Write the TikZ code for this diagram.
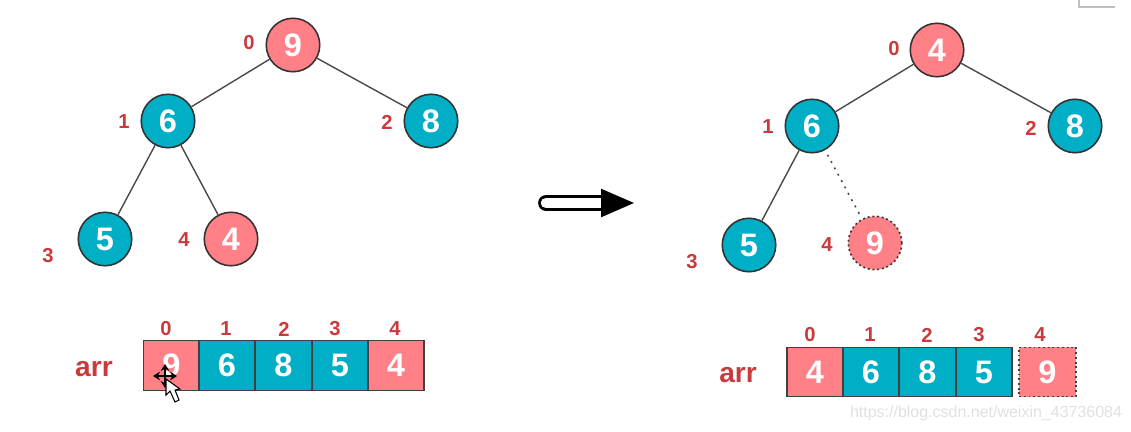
\documentclass[tikz,border=0pt]{standalone}
\usepackage{fontspec}
\setmainfont{Liberation Sans}
\usetikzlibrary{arrows.meta}
\definecolor{tealfill}{HTML}{00AEC5}
\definecolor{pinkfill}{HTML}{FF8087}
\definecolor{indexred}{HTML}{C93A3C}
\definecolor{edgegray}{HTML}{4A4A4A}
\tikzset{
  heap node/.style={circle,draw=black!80,line width=0.9pt,minimum size=1.07cm,inner sep=0pt,text=white,font=\fontsize{18.5}{18.5}\selectfont\bfseries},
  teal node/.style={heap node,fill=tealfill},
  pink node/.style={heap node,fill=pinkfill},
  loose node/.style={pink node,dash pattern=on 1.1pt off 1.6pt},
  index label/.style={text=indexred,inner sep=0pt,font=\fontsize{11.5}{11.5}\selectfont\bfseries},
  arr label/.style={text=indexred,inner sep=0pt,font=\fontsize{16}{16}\selectfont\bfseries},
  arr cell/.style={draw=black!75,line width=0.8pt,minimum height=0.99cm,inner sep=0pt,text=white,font=\fontsize{18.5}{18.5}\selectfont\bfseries},
  tree edge/.style={edgegray,line width=0.8pt},
  loose edge/.style={edgegray,line width=0.9pt,dash pattern=on 1.1pt off 3pt},
  swap arrow/.style={line width=1.5pt,double=white,double distance=6pt,line cap=round,-{Triangle[length=0.66cm,width=0.56cm]}},
}
\begin{document}
\begin{tikzpicture}[x=0.02cm,y=-0.02cm]
  \useasboundingbox (0,0) rectangle (1131,432);
  % left heap
  \foreach \n/\v/\x/\y/\s in {a0/9/293/45/pink,a1/6/168/121/teal,a2/8/431/121/teal,a3/5/105/239/teal,a4/4/231/239/pink}{
    \node[\s\space node] (\n) at (\x,\y) {\v};
  }
  \foreach \i/\x/\y in {0/249/43,1/124/122,2/387/122,3/48/256,4/184/240}{
    \node[index label] (al\i) at (\x,\y) {\i};
  }
  \draw[tree edge] (a0)--(a1);
  \draw[tree edge] (a0)--(a2);
  \draw[tree edge] (a1)--(a3);
  \draw[tree edge] (a1)--(a4);
  % left array
  \node[arr label] (aarr) at (94,369) {arr};
  \foreach \i/\v/\x/\w/\s in {0/9/171.5/55.5/pinkfill,1/6/227/56/tealfill,2/8/283.5/57/tealfill,3/5/340/56/tealfill,4/4/396/56/pinkfill}{
    \node[arr cell,fill=\s,minimum width=\w*0.02cm] (ac\i) at (\x,365.5) {\v};
  }
  \foreach \i/\x in {0/166,1/226,2/284,3/335,4/395}{
    \node[index label] (at\i) at (\x,329) {\i};
  }
  % cursor
  \begin{scope}[shift={(165,376)}]
    \draw[black,line width=0.9pt,{Stealth[length=4pt,width=5pt]}-{Stealth[length=4pt,width=5pt]}] (-12,0)--(12,0);
    \draw[black,line width=0.9pt,{Stealth[length=4pt,width=5pt]}-{Stealth[length=4pt,width=5pt]}] (0,-12)--(0,12);
    \draw[fill=white,draw=black,line width=0.6pt] (1,3)--(1,19)--(5,15)--(10,26)--(14,24)--(10,14)--(15,13)--cycle;
  \end{scope}
  % arrow
  \coordinate (tail) at (546,203);
  \coordinate (tip) at (634,203);
  \draw[swap arrow] (tail)--(tip);
  % right heap
  \foreach \n/\v/\x/\y/\s in {b0/4/937/50/pink,b1/6/812/126/teal,b2/8/1075/126/teal,b3/5/749/245/teal,b4/9/875/243/loose}{
    \node[\s\space node] (\n) at (\x,\y) {\v};
  }
  \foreach \i/\x/\y in {0/894/49,1/768/127,2/1031/128,3/692/262,4/827/245}{
    \node[index label] (bl\i) at (\x,\y) {\i};
  }
  \draw[tree edge] (b0)--(b1);
  \draw[tree edge] (b0)--(b2);
  \draw[tree edge] (b1)--(b3);
  \draw[loose edge,shorten >=2pt,shorten <=3pt] (b1)--(b4);
  % right array
  \node[arr label] (barr) at (738,375) {arr};
  \foreach \i/\v/\x/\w/\s in {0/4/815/56/pinkfill,1/6/871/56/tealfill,2/8/927.5/57/tealfill,3/5/984/56/tealfill}{
    \node[arr cell,fill=\s,minimum width=\w*0.02cm] (bc\i) at (\x,372) {\v};
  }
  \node[arr cell,fill=pinkfill,dash pattern=on 1.1pt off 1.6pt,minimum width=57*0.02cm] (bc4) at (1047.5,372) {9};
  \foreach \i/\x in {0/810,1/870,2/927,3/979,4/1040}{
    \node[index label] (bt\i) at (\x,335) {\i};
  }
  % top corner and watermark
  \draw[black!25,line width=0.8pt] (1079,0)--(1079,7)--(1115,7);
  \node[text=black!12,inner sep=0pt,font=\fontsize{9.1}{9.1}\selectfont] (mark) at (986,413) {https://blog.csdn.net/weixin\_43736084};
\end{tikzpicture}
\end{document}
